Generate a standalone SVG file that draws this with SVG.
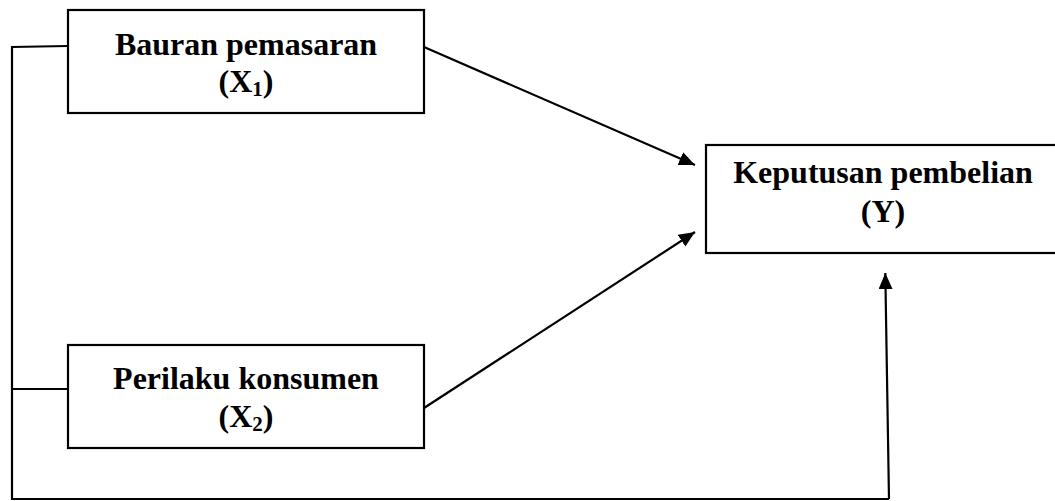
<svg xmlns="http://www.w3.org/2000/svg" width="1055" height="501" viewBox="0 0 1055 501">
<style>
.box{fill:#fff;stroke:#000;stroke-width:2.2}
.t{font-family:"Liberation Serif","Times New Roman",serif;font-weight:bold;font-size:32px;fill:#000;text-anchor:middle}
.sub{font-size:21px}
.ln{fill:none;stroke:#000;stroke-width:2.2}
</style>
<defs>
<marker id="ah" markerUnits="userSpaceOnUse" markerWidth="18" markerHeight="14" refX="16" refY="7" orient="auto">
<path d="M0,0 L16,7 L0,14 Z" fill="#000"/>
</marker>
</defs>
<rect width="1055" height="501" fill="#fff"/>
<g id="connectors">
<polyline class="ln" points="68,46 12,47 12,499 889,499"/>
<line class="ln" x1="12" y1="389" x2="68" y2="389"/>
<line class="ln" x1="889" y1="499" x2="885.3" y2="273" marker-end="url(#ah)"/>
<line class="ln" x1="424" y1="47" x2="695" y2="165" marker-end="url(#ah)"/>
<line class="ln" x1="424" y1="408" x2="695" y2="232" marker-end="url(#ah)"/>
</g>
<g id="node-x1">
<rect class="box" x="68" y="10" width="356" height="103"/>
<text class="t" x="246" y="55">Bauran pemasaran</text>
<text class="t" x="246" y="92">(X<tspan class="sub" dy="4">1</tspan><tspan dy="-4">)</tspan></text>
</g>
<g id="node-x2">
<rect class="box" x="68" y="345" width="356" height="103"/>
<text class="t" x="246" y="389">Perilaku konsumen</text>
<text class="t" x="246" y="427">(X<tspan class="sub" dy="4">2</tspan><tspan dy="-4">)</tspan></text>
</g>
<g id="node-y">
<rect class="box" x="706" y="145" width="360" height="108"/>
<text class="t" x="883" y="183">Keputusan pembelian</text>
<text class="t" x="883" y="222">(Y)</text>
</g>
</svg>
